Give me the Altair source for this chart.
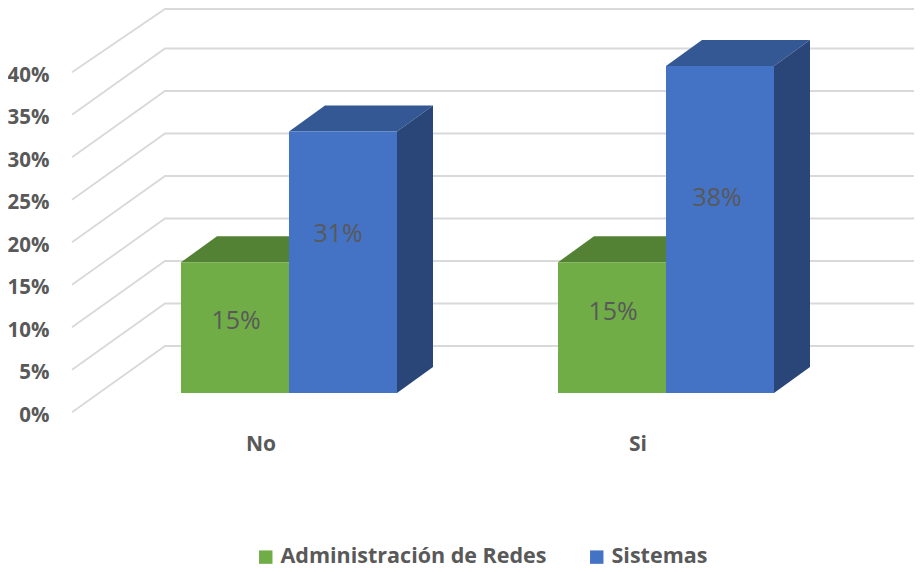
import altair as alt
import pandas as pd

# --- values ---
categories = ["No", "Si"]
series = ["Administración de Redes", "Sistemas"]
admin_values = [15.38, 15.38]
sistemas_values = [30.77, 38.46]
bar_labels_admin = ["15%", "15%"]
bar_labels_sistemas = ["31%", "38%"]
y_ticks = [0, 5, 10, 15, 20, 25, 30, 35, 40]

# --- styles ---
FONT = "Open Sans"
TEXT = "#595959"
GRID = "#D9D9D9"
FRONT = {"Administración de Redes": "#70AD47", "Sistemas": "#4472C4"}
TOP = {"Administración de Redes": "#548235", "Sistemas": "#335894"}
SIDE = {"Administración de Redes": "#43682A", "Sistemas": "#2A4679"}

# --- projection geometry, in scale units (x: category spacing, y: percent) ---
UX = 377.0          # pixels per category step
UY = 8.5            # pixels per percent
BAR_W = 108 / UX
DEPTH_X = 36 / UX
DEPTH_Y = 26 / UY
BASE = 19.3 / UY    # front bottom of the bars above the axis zero
WALL_DY = 66.3 / UY
GRID_X0 = (72 - 181) / UX
WALL_X = (165 - 181) / UX
GRID_X1 = (914 - 181) / UX
X_DOMAIN = [(54 - 181) / UX, (914 - 181) / UX]
Y_DOMAIN = [(412.3 - 564) / UY, (412.3 - 9) / UY]

x_scale = alt.Scale(domain=X_DOMAIN, nice=False, zero=False)
y_scale = alt.Scale(domain=Y_DOMAIN, nice=False, zero=False, clamp=True)
X = alt.X("x:Q", scale=x_scale, axis=None)
Y = alt.Y("y:Q", scale=y_scale, title=None,
          axis=alt.Axis(values=y_ticks, labelExpr="datum.value + '%'", domain=False,
                        ticks=False, grid=False, labelFont=FONT, labelFontSize=20.5,
                        labelFontWeight="bold", labelColor=TEXT, labelPadding=5,
                        labelOffset=3))

# --- grid: L-shaped lines, side wall then back wall ---
grid_rows = []
for t in y_ticks:
    grid_rows += [
        {"t": t, "x": GRID_X0, "y": t},
        {"t": t, "x": WALL_X, "y": t + WALL_DY},
        {"t": t, "x": GRID_X1, "y": t + WALL_DY},
    ]
grid = alt.Chart(pd.DataFrame(grid_rows)).mark_line(color=GRID, strokeWidth=1.8).encode(
    x=X, y=Y, detail="t:N")

# --- bars ---
bars = []
for i, c in enumerate(categories):
    bars.append((c, series[0], i, admin_values[i]))
    bars.append((c, series[1], i + BAR_W, sistemas_values[i]))

layers = [grid]
front_rows = []
for c, s, x0, v in bars:
    x1 = x0 + BAR_W
    lo, hi = BASE, BASE + v
    top = pd.DataFrame({
        "x": [x0, x0 + DEPTH_X, x1, x1 + DEPTH_X],
        "y": [hi, hi + DEPTH_Y, hi + DEPTH_Y, hi + DEPTH_Y],
        "y2": [hi, hi, hi, hi + DEPTH_Y],
    })
    side = pd.DataFrame({
        "x": [x1, x1 + DEPTH_X],
        "y": [hi, hi + DEPTH_Y],
        "y2": [lo, lo + DEPTH_Y],
    })
    layers.append(alt.Chart(top).mark_area(color=TOP[s], interpolate="linear").encode(
        x=X, y=Y, y2="y2:Q"))
    layers.append(alt.Chart(side).mark_area(color=SIDE[s], interpolate="linear").encode(
        x=X, y=Y, y2="y2:Q"))
    front_rows.append({"series": s, "x": x0, "x2": x1, "y": lo, "y2": hi})

front = alt.Chart(pd.DataFrame(front_rows)).mark_rect().encode(
    x=X, x2="x2:Q", y=Y, y2="y2:Q",
    color=alt.Color("series:N", scale=alt.Scale(domain=series, range=[FRONT[s] for s in series]),
                    legend=alt.Legend(title=None, orient="none", direction="horizontal",
                                      legendX=201, legendY=537, symbolType="square",
                                      symbolSize=180, symbolStrokeWidth=0,
                                      labelFont=FONT, labelFontSize=21.5, labelFontWeight="bold",
                                      labelColor=TEXT, columnPadding=39, labelOffset=4,
                                      labelLimit=400)))
layers.append(front)

# --- value labels (placed by hand in the original) ---
label_x = [(236 - 181) / UX, (338 - 181) / UX, (613 - 181) / UX, (717 - 181) / UX]
label_y = [(412.3 - 320.5) / UY, (412.3 - 233.5) / UY, (412.3 - 311.5) / UY, (412.3 - 197.5) / UY]
label_text = [bar_labels_admin[0], bar_labels_sistemas[0], bar_labels_admin[1], bar_labels_sistemas[1]]
labels = alt.Chart(pd.DataFrame({"x": label_x, "y": label_y, "text": label_text})).mark_text(
    font=FONT, fontSize=25, color=TEXT, baseline="middle", align="center").encode(
    x=X, y=Y, text="text:N")
layers.append(labels)

# --- category labels ---
cat_df = pd.DataFrame({"x": [i + 80 / UX for i in range(len(categories))],
                       "y": [(412.3 - 445) / UY] * len(categories),
                       "text": categories})
cats = alt.Chart(cat_df).mark_text(
    font=FONT, fontSize=21, fontWeight="bold", color=TEXT, baseline="middle", align="center").encode(
    x=X, y=Y, text="text:N")
layers.append(cats)

chart = alt.layer(*layers).properties(
    width=860, height=555,
    autosize=alt.AutoSizeParams(type="none"),
    padding={"left": 46, "top": 1, "right": 0, "bottom": 0},
).configure_view(stroke=None)

chart.save("out.html", embed_options={"renderer": "svg", "actions": False})
